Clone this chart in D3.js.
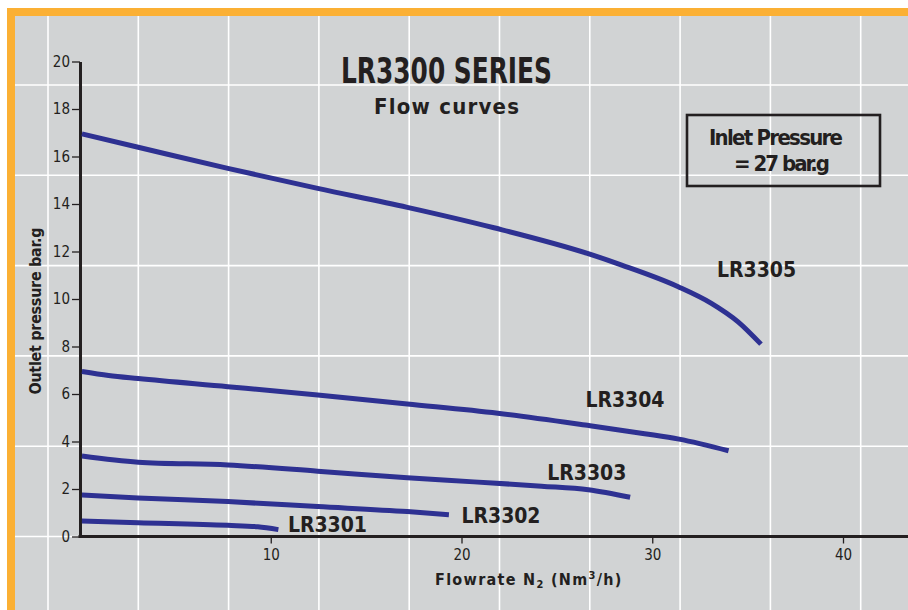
<!DOCTYPE html>
<html>
<head>
<meta charset="utf-8">
<script src="https://cdn.jsdelivr.net/npm/d3@7"></script>
<style>
  html, body { margin: 0; padding: 0; background: #ffffff; }
  svg { display: block; }
  text { font-family: "Liberation Sans Narrow", "DejaVu Sans Condensed", "Arial Narrow", sans-serif; fill: #231f20; }
</style>
</head>
<body>
<svg id="chart" width="908" height="610"></svg>
<script>
// ---------- data ----------
const seriesNames = ["LR3305", "LR3304", "LR3303", "LR3302", "LR3301"];
const flow3305 = [0.1, 3.05, 7.75, 12.46, 17.16, 21.7, 26.6, 28.4, 31.36, 33.1, 34.5, 35.7];
const pres3305 = [16.95, 16.39, 15.5, 14.66, 13.86, 13.0, 11.92, 11.43, 10.52, 9.82, 9.04, 8.1];
const flow3304 = [0.1, 1.5, 3.05, 7.75, 12.46, 17.16, 21.9, 26.6, 29.6, 31.4, 34.0];
const pres3304 = [6.95, 6.78, 6.65, 6.31, 5.96, 5.58, 5.19, 4.68, 4.33, 4.1, 3.61];
const flow3303 = [0.1, 3.05, 7.75, 12.46, 17.16, 20.65, 24.2, 26.65, 28.84];
const pres3303 = [3.39, 3.13, 3.01, 2.75, 2.47, 2.3, 2.12, 1.97, 1.65];
const flow3302 = [0.1, 3.05, 7.75, 12.46, 17.16, 19.34];
const pres3302 = [1.75, 1.62, 1.47, 1.26, 1.05, 0.92];
const flow3301 = [0.1, 3.05, 7.75, 9.32, 10.4];
const pres3301 = [0.65, 0.58, 0.47, 0.41, 0.29];
const xTicks = [10, 20, 30, 40];
const yTicks = [0, 2, 4, 6, 8, 10, 12, 14, 16, 18, 20];
const titleText = "LR3300 SERIES";
const subtitleText = "Flow curves";
const noteLines = ["Inlet Pressure", "= 27 bar.g"];
const yTitle = "Outlet pressure bar.g";

// ---------- layout ----------
const W = 908, H = 610;
const svg = d3.select("#chart");
const ink = "#231f20";
const lineColor = "#2e3192";

// background frame
svg.append("rect").attr("x", 0).attr("y", 0).attr("width", W).attr("height", H).attr("fill", "#ffffff");
svg.append("rect").attr("x", 7).attr("y", 8).attr("width", W - 7).attr("height", H - 8).attr("fill", "#fbb034");
svg.append("rect").attr("x", 15).attr("y", 16).attr("width", W - 15).attr("height", H - 16).attr("fill", "#d1d3d4");

// decorative white grid (fixed pitch)
const gridPitch = 90.3;
const gx = d3.range(48, W, gridPitch);
const gy = d3.range(85, H, gridPitch);
const grid = svg.append("g").attr("stroke", "#ffffff").attr("stroke-width", 1.6);
grid.selectAll("line.v").data(gx).join("line").attr("class", "v")
  .attr("x1", d => d).attr("x2", d => d).attr("y1", 16).attr("y2", H);
grid.selectAll("line.h").data(gy).join("line").attr("class", "h")
  .attr("x1", 15).attr("x2", W).attr("y1", d => d).attr("y2", d => d);

// scales
const x = d3.scaleLinear().domain([0, 40]).range([80, 843]);
const y = d3.scaleLinear().domain([0, 20]).range([536.5, 61.5]);

// y axis
const yAxis = svg.append("g").attr("transform", `translate(${x(0)},0)`)
  .call(d3.axisLeft(y).tickValues(yTicks).tickSize(8).tickPadding(2).tickSizeOuter(0));
yAxis.select(".domain").attr("stroke", ink).attr("stroke-width", 3);
yAxis.selectAll(".tick line").attr("stroke", ink).attr("stroke-width", 1.3);
yAxis.selectAll(".tick text").attr("font-size", 15).attr("fill", ink)
  .style("font-family", '"Liberation Sans Narrow", "DejaVu Sans Condensed", sans-serif');

// x axis
const xAxis = svg.append("g").attr("transform", `translate(0,${y(0)})`)
  .call(d3.axisBottom(x).tickValues(xTicks).tickSize(7).tickPadding(6).tickSizeOuter(0));
xAxis.select(".domain").remove();
xAxis.append("line").attr("x1", x(0) - 1.5).attr("x2", W).attr("y1", 0).attr("y2", 0)
  .attr("stroke", ink).attr("stroke-width", 3);
xAxis.selectAll(".tick line").attr("stroke", ink).attr("stroke-width", 1.3);
xAxis.selectAll(".tick text").attr("font-size", 15).attr("fill", ink)
  .style("font-family", '"Liberation Sans Narrow", "DejaVu Sans Condensed", sans-serif');

// curves
const allSeries = [
  {name: seriesNames[0], fx: flow3305, py: pres3305},
  {name: seriesNames[1], fx: flow3304, py: pres3304},
  {name: seriesNames[2], fx: flow3303, py: pres3303},
  {name: seriesNames[3], fx: flow3302, py: pres3302},
  {name: seriesNames[4], fx: flow3301, py: pres3301}
];
const line = d3.line().x(d => x(d[0])).y(d => y(d[1])).curve(d3.curveMonotoneX);
svg.append("g").selectAll("path").data(allSeries).join("path")
  .attr("d", s => line(s.fx.map((v, i) => [v, s.py[i]])))
  .attr("fill", "none").attr("stroke", lineColor).attr("stroke-width", 5);

// series labels (layout: data-space anchor for each label)
const labelAnchors = {
  LR3305: [33.4, 10.93],
  LR3304: [26.5, 5.47],
  LR3303: [24.5, 2.38],
  LR3302: [20.0, 0.55],
  LR3301: [10.9, 0.20]
};
svg.append("g").selectAll("text").data(seriesNames).join("text")
  .attr("x", n => x(labelAnchors[n][0]))
  .attr("y", n => y(labelAnchors[n][1]))
  .attr("font-size", 21).attr("font-weight", "bold")
  .attr("textLength", 79).attr("lengthAdjust", "spacing")
  .text(n => n);

// title
svg.append("text").attr("x", 341).attr("y", 83).attr("font-size", 35).attr("font-weight", "bold")
  .attr("textLength", 211).attr("lengthAdjust", "spacingAndGlyphs").text(titleText);
svg.append("text").attr("x", 374).attr("y", 114).attr("font-size", 22).attr("font-weight", "bold")
  .attr("textLength", 145).attr("lengthAdjust", "spacing").text(subtitleText);

// inlet pressure note box
svg.append("rect").attr("x", 687).attr("y", 115).attr("width", 193).attr("height", 71)
  .attr("fill", "none").attr("stroke", ink).attr("stroke-width", 2.6);
svg.append("text").attr("x", 709).attr("y", 145).attr("font-size", 22).attr("font-weight", "bold")
  .attr("textLength", 134).attr("lengthAdjust", "spacing").text(noteLines[0]);
svg.append("text").attr("x", 734).attr("y", 171).attr("font-size", 22).attr("font-weight", "bold")
  .attr("textLength", 96).attr("lengthAdjust", "spacing").text(noteLines[1]);

// y-axis title
svg.append("text").attr("transform", "translate(41,311) rotate(-90)")
  .attr("text-anchor", "middle").attr("font-size", 16).attr("font-weight", "bold")
  .attr("textLength", 167).attr("lengthAdjust", "spacing").text(yTitle);

// x-axis title
const xt = svg.append("text").attr("x", 435).attr("y", 585).attr("font-size", 16)
  .attr("font-weight", "bold").attr("letter-spacing", 1.3);
xt.append("tspan").text("Flowrate N");
xt.append("tspan").attr("font-size", 11).attr("dy", 3).text("2");
xt.append("tspan").attr("dy", -3).text(" (Nm");
xt.append("tspan").attr("font-size", 11).attr("dy", -6).text("3");
xt.append("tspan").attr("dy", 6).text("/h)");
</script>
</body>
</html>
